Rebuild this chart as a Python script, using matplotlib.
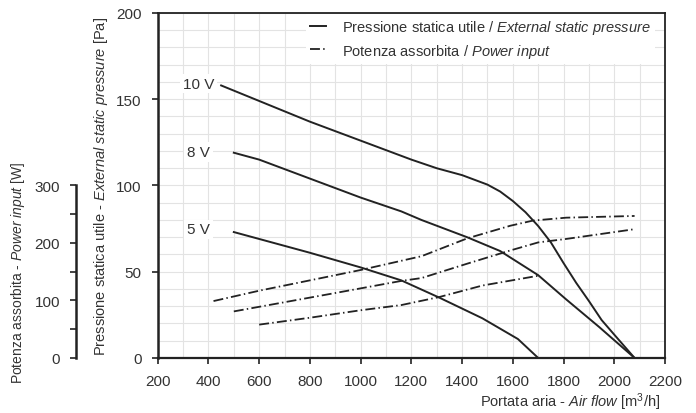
import matplotlib
matplotlib.use("Agg")
import matplotlib.pyplot as plt
from matplotlib import font_manager
from matplotlib.ticker import MultipleLocator

# Fonts: condensed sans if available, else Liberation Sans at smaller sizes
names = {f.name for f in font_manager.fontManager.ttflist}
NARROW = "Liberation Sans Narrow" in names
FONT = "Liberation Sans Narrow" if NARROW else "Liberation Sans"
plt.rcParams["font.family"] = [FONT, "DejaVu Sans"]
plt.rcParams["mathtext.fontset"] = "custom"
plt.rcParams["mathtext.rm"] = FONT
plt.rcParams["mathtext.it"] = FONT + ":italic"
TICK_FS = 12 if NARROW else 11
LAB_FS = 12 if NARROW else 10
LEG_FS = 12 if NARROW else 10.5

# Static pressure curves [Pa] vs air flow [m3/h]
flow_10v = [450, 600, 800, 1000, 1200, 1300, 1400, 1500, 1550, 1600, 1650, 1700, 1750, 1800,
            1850, 1900, 1950, 2000, 2080]
pres_10v = [158, 149, 137, 126, 115, 110, 106, 100.5, 96.5, 91, 84.5, 76.5, 67, 55,
            43.5, 33, 22, 13.5, 0]
flow_8v = [500, 600, 800, 1000, 1160, 1240, 1420, 1550, 1700, 1810, 1940, 2080]
pres_8v = [119, 115, 104, 93, 85, 80, 70, 62, 48, 34, 18, 0]
flow_5v = [500, 600, 800, 1000, 1160, 1310, 1480, 1620, 1700]
pres_5v = [73, 69, 61, 52.5, 45, 35, 23, 11, 0]

# Power input curves [W]
pflow_10v = [420, 600, 800, 1000, 1160, 1240, 1420, 1590, 1680, 1810, 2080]
power_10v = [99, 117, 135, 153, 169, 177, 208, 230, 239, 244, 247]
pflow_8v = [500, 700, 900, 1160, 1240, 1420, 1590, 1700, 1810, 2080]
power_8v = [81, 97, 113, 134, 139, 164, 187, 201, 207, 224]
pflow_5v = [600, 800, 1000, 1160, 1310, 1480, 1700]
power_5v = [58, 70, 83, 92, 106, 126, 143]

speed_labels = ["10 V", "8 V", "5 V"]
label_y = [159, 119.5, 74.5]

INK = "#222222"
TXT = "#333333"
DASHDOT = (0, (5.5, 1.8, 0.8, 1.8))

fig = plt.figure(figsize=(6.96, 4.14), dpi=100)
ax = fig.add_axes([0.2266, 0.1329, 0.7289, 0.8333])

ax.set_xlim(200, 2200)
ax.set_ylim(0, 200)
ax.xaxis.set_major_locator(MultipleLocator(200))
ax.xaxis.set_minor_locator(MultipleLocator(100))
ax.yaxis.set_major_locator(MultipleLocator(50))
ax.yaxis.set_minor_locator(MultipleLocator(10))
ax.grid(True, which="both", color="#e3e3e3", lw=0.8)
ax.set_axisbelow(True)

for s in ax.spines.values():
    s.set_color(INK)
    s.set_linewidth(1.3)
ax.spines["left"].set_linewidth(1.8)
ax.spines["bottom"].set_linewidth(1.6)

ax.tick_params(which="major", direction="out", length=4.5, width=1.2, color=INK,
               labelsize=TICK_FS, labelcolor=TXT, pad=7)
ax.tick_params(which="minor", length=0)

for fx, py in [(flow_10v, pres_10v), (flow_8v, pres_8v), (flow_5v, pres_5v)]:
    line_p, = ax.plot(fx, py, color=INK, lw=1.4, zorder=3)

for lab, yy in zip(speed_labels, label_y):
    ax.text(361, yy, lab, ha="center", va="center", fontsize=TICK_FS, color=TXT, zorder=4,
            bbox=dict(facecolor="white", edgecolor="none", pad=2))

ax.set_ylabel(r"Pressione statica utile - $\mathit{External\ static\ pressure}$ [Pa]",
              fontsize=LAB_FS + 0.5, color=TXT)
ax.yaxis.set_label_coords(-0.094, 0.5)
ax.set_xlabel(r"Portata aria - $\mathit{Air\ flow}$ [m$^3$/h]", fontsize=LAB_FS + 0.5,
              color=TXT, loc="right")
ax.xaxis.set_label_coords(0.99, -0.095)

# Secondary power axis on the far left
ax2 = ax.twinx()
ax2.set_ylim(0, 600)
ax2.yaxis.tick_left()
ax2.yaxis.set_label_position("left")
ax2.spines["left"].set_position(("axes", -0.161))
ax2.spines["left"].set_bounds(0, 300)
ax2.spines["left"].set_linewidth(1.8)
ax2.spines["left"].set_color(INK)
for k in ["right", "top", "bottom"]:
    ax2.spines[k].set_visible(False)
ax2.set_yticks([0, 100, 200, 300])
ax2.set_yticks([50, 150, 250], minor=True)
ax2.tick_params(which="both", direction="out", length=4.5, width=1.2, color=INK,
                labelsize=TICK_FS, labelcolor=TXT, pad=7)

for fx, pw in [(pflow_10v, power_10v), (pflow_8v, power_8v), (pflow_5v, power_5v)]:
    line_w, = ax2.plot(fx, pw, color=INK, lw=1.3, linestyle=DASHDOT, zorder=3)

ax2.set_ylabel(r"Potenza assorbita - $\mathit{Power\ input}$ [W]", fontsize=LAB_FS, color=TXT)
ax2.yaxis.set_label_coords(-0.258, 0.25)

leg = ax2.legend([line_p, line_w],
                 [r"Pressione statica utile / $\mathit{External\ static\ pressure}$",
                  r"Potenza assorbita / $\mathit{Power\ input}$"],
                 loc="upper right", fontsize=LEG_FS, frameon=True, fancybox=False,
                 handlelength=1.05, handletextpad=1.1, labelspacing=0.35,
                 borderaxespad=0.0, borderpad=0.3, bbox_to_anchor=(0.98, 0.997))
leg.get_frame().set_facecolor("white")
leg.get_frame().set_edgecolor("none")
leg.get_frame().set_alpha(1)
for t in leg.get_texts():
    t.set_color(TXT)

fig.savefig("out.png", dpi=100)
plt.close(fig)
